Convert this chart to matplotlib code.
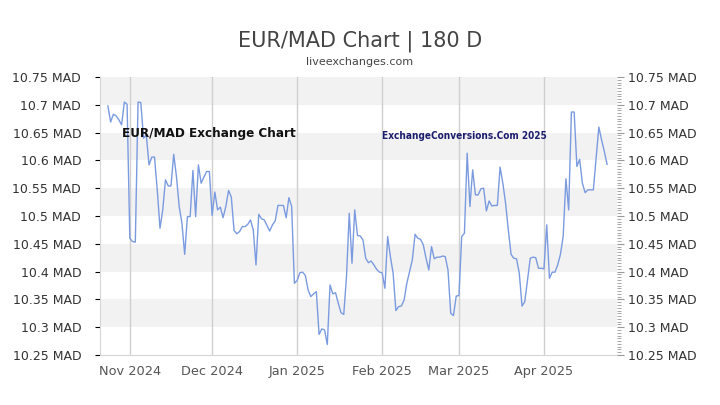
import matplotlib
matplotlib.use("Agg")
import matplotlib.pyplot as plt
from matplotlib import font_manager as fm
from matplotlib.ticker import MultipleLocator
import pandas as pd

start_date = "2024-10-24"
rates = [
    10.698, 10.669, 10.683, 10.680, 10.673, 10.664, 10.705, 10.701, 10.460, 10.454,
    10.453, 10.705, 10.704, 10.640, 10.646, 10.592, 10.606, 10.606, 10.547, 10.478,
    10.511, 10.565, 10.554, 10.554, 10.611, 10.571, 10.517, 10.487, 10.431, 10.499,
    10.499, 10.582, 10.499, 10.592, 10.559, 10.570, 10.580, 10.580, 10.501, 10.543,
    10.511, 10.516, 10.497, 10.517, 10.546, 10.534, 10.474, 10.468, 10.472, 10.481,
    10.481, 10.485, 10.493, 10.475, 10.412, 10.503, 10.495, 10.493, 10.483, 10.473,
    10.484, 10.491, 10.519, 10.519, 10.519, 10.497, 10.533, 10.517, 10.379, 10.384,
    10.398, 10.399, 10.393, 10.367, 10.355, 10.360, 10.364, 10.287, 10.297, 10.295,
    10.269, 10.376, 10.360, 10.362, 10.343, 10.326, 10.323, 10.391, 10.505, 10.415,
    10.511, 10.465, 10.464, 10.457, 10.424, 10.416, 10.419, 10.412, 10.404, 10.399,
    10.398, 10.370, 10.463, 10.427, 10.397, 10.330, 10.337, 10.338, 10.349, 10.379,
    10.400, 10.421, 10.467, 10.460, 10.458, 10.448, 10.424, 10.403, 10.445, 10.423,
    10.426, 10.426, 10.428, 10.427, 10.403, 10.325, 10.321, 10.356, 10.357, 10.463,
    10.469, 10.613, 10.517, 10.583, 10.538, 10.538, 10.549, 10.550, 10.509, 10.527,
    10.518, 10.519, 10.519, 10.588, 10.559, 10.523, 10.475, 10.431, 10.424, 10.423,
    10.397, 10.338, 10.346, 10.385, 10.424, 10.426, 10.425, 10.406, 10.406, 10.405,
    10.484, 10.388, 10.399, 10.399, 10.412, 10.431, 10.463, 10.567, 10.511, 10.687,
    10.687, 10.589, 10.602, 10.559, 10.542, 10.547, 10.547, 10.547, 10.604, 10.660,
    10.637, 10.616, 10.593,
]
dates = pd.date_range(start_date, periods=len(rates), freq="D")

y_ticks = [10.25, 10.30, 10.35, 10.40, 10.45, 10.50, 10.55, 10.60, 10.65, 10.70, 10.75]
y_labels = ["10.25 MAD", "10.3 MAD", "10.35 MAD", "10.4 MAD", "10.45 MAD", "10.5 MAD",
            "10.55 MAD", "10.6 MAD", "10.65 MAD", "10.7 MAD", "10.75 MAD"]
x_tick_dates = ["2024-11-01", "2024-12-01", "2025-01-01", "2025-02-01", "2025-03-01", "2025-04-01"]
x_labels = ["Nov 2024", "Dec 2024", "Jan 2025", "Feb 2025", "Mar 2025", "Apr 2025"]
x_range = ["2024-10-21 03:00", "2025-04-27 15:00"]

title = "EUR/MAD Chart | 180 D"
subtitle = "liveexchanges.com"
wm1 = "EUR/MAD Exchange Chart"
wm2 = "ExchangeConversions.Com 2025"

# look for a condensed / narrow bold face for the watermark texts
cond = None
for f in fm.fontManager.ttflist:
    nm = (f.name + " " + str(f.fname)).lower()
    narrow = ("cond" in nm or "narrow" in nm or f.stretch in ("condensed", "semi-condensed", "extra-condensed"))
    if narrow and ("bold" in nm or str(f.weight) in ("bold", "700", "600", "semibold", "demibold")):
        cond = f.fname
        break

fig = plt.figure(figsize=(7.2, 4.05), dpi=100)
ax = fig.add_axes([100/720, 50/405, 517/720, 278/405])

for i in range(len(y_ticks) - 1, 0, -2):
    ax.axhspan(y_ticks[i - 1], y_ticks[i], color="#f2f2f2", lw=0, zorder=0)

xt = pd.to_datetime(x_tick_dates)
for d in xt:
    ax.axvline(d, color="#cfcfcf", lw=1, zorder=1)

ax.plot(dates, rates, color="#7b9be0", lw=1, zorder=3)

ax.set_xlim(pd.Timestamp(x_range[0]), pd.Timestamp(x_range[1]))
ax.set_ylim(y_ticks[0], y_ticks[-1])

ax.set_xticks(xt)
ax.set_xticklabels(x_labels, fontsize=9.3, color="#555555")
ax.tick_params(axis="x", length=0, pad=7)

ax.set_yticks(y_ticks)
ax.set_yticklabels(y_labels, fontsize=9, color="#333333")
ax.tick_params(axis="y", left=False, right=False, pad=10)

ax2 = ax.twinx()
ax2.set_ylim(y_ticks[0], y_ticks[-1])
ax2.set_yticks(y_ticks)
ax2.set_yticklabels(y_labels, fontsize=9, color="#333333")
ax2.yaxis.set_minor_locator(MultipleLocator(0.005))
ax2.tick_params(axis="y", which="major", length=5, color="#999999", pad=3)
ax2.tick_params(axis="y", which="minor", length=3, color="#999999")

for a in (ax, ax2):
    for s in a.spines.values():
        s.set_visible(False)
ax.spines["left"].set_visible(True)
ax.spines["bottom"].set_visible(True)
ax.spines["left"].set_color("#d6d6d6")
ax.spines["bottom"].set_color("#d6d6d6")

fig.text(0.5, 1 - 41/405, title, ha="center", va="center", fontsize=15, color="#444444")
fig.text(0.5, 1 - 62/405, subtitle, ha="center", va="center", fontsize=8, color="#444444")

if cond is not None:
    fp1 = fm.FontProperties(fname=cond, size=9.6)
    fp2 = fm.FontProperties(fname=cond, size=7.2)
else:
    fp1 = fm.FontProperties(family="Liberation Sans", weight="bold", size=10.5)
    fp2 = fm.FontProperties(family="Liberation Sans", weight="bold", size=7.8)

ax.text(122/720, 1 - 134/405, wm1, transform=fig.transFigure, ha="left", va="center",
        fontproperties=fp1, color="#111111", zorder=5)
ax.text(382/720, 1 - 136/405, wm2, transform=fig.transFigure, ha="left", va="center",
        fontproperties=fp2, color="#1d1d6e", zorder=5)

fig.savefig("out.png", dpi=100)
